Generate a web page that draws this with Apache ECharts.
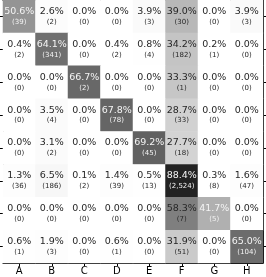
<!DOCTYPE html>
<html><head><meta charset="utf-8">
<script src="https://cdn.jsdelivr.net/npm/echarts@6/dist/echarts.min.js"></script>
<style>html,body{margin:0;padding:0;background:#fff}#c{width:266px;height:277px}</style>
</head><body><div id="c"></div>
<script>
const categories = ['A','B','C','D','E','F','G','H'];
// row-normalised percentages (rows = true class, top to bottom)
const percentA = [50.6, 2.6, 0.0, 0.0, 3.9, 39.0, 0.0, 3.9];
const percentB = [0.4, 64.1, 0.0, 0.4, 0.8, 34.2, 0.2, 0.0];
const percentC = [0.0, 0.0, 66.7, 0.0, 0.0, 33.3, 0.0, 0.0];
const percentD = [0.0, 3.5, 0.0, 67.8, 0.0, 28.7, 0.0, 0.0];
const percentE = [0.0, 3.1, 0.0, 0.0, 69.2, 27.7, 0.0, 0.0];
const percentF = [1.3, 6.5, 0.1, 1.4, 0.5, 88.4, 0.3, 1.6];
const percentG = [0.0, 0.0, 0.0, 0.0, 0.0, 58.3, 41.7, 0.0];
const percentH = [0.6, 1.9, 0.0, 0.6, 0.0, 31.9, 0.0, 65.0];
const countA = [39, 2, 0, 0, 3, 30, 0, 3];
const countB = [2, 341, 0, 2, 4, 182, 1, 0];
const countC = [0, 0, 2, 0, 0, 1, 0, 0];
const countD = [0, 4, 0, 78, 0, 33, 0, 0];
const countE = [0, 2, 0, 0, 45, 18, 0, 0];
const countF = [36, 186, 2, 39, 13, 2524, 8, 47];
const countG = [0, 0, 0, 0, 0, 7, 5, 0];
const countH = [1, 3, 0, 1, 0, 51, 0, 104];

const percents = [percentA, percentB, percentC, percentD, percentE, percentF, percentG, percentH];
const counts = [countA, countB, countC, countD, countE, countF, countG, countH];

// style: label colour rule (light text on dark cells) with exceptions seen in the reference
const lightExceptions = {'6,6': true};
const darkExceptions = {'6,5': true};

const data = [];
for (let r = 0; r < 8; r++) {
  for (let c = 0; c < 8; c++) {
    const v = percents[r][c];
    const key = r + ',' + c;
    let light = v > 50;
    if (lightExceptions[key]) light = true;
    if (darkExceptions[key]) light = false;
    const col = light ? '#f4f4f4' : '#262626';
    data.push({
      value: [c, r, v, counts[r][c]],
      label: { rich: {
        p: { color: col, fontSize: 9.5, lineHeight: 11, fontFamily: 'DejaVu Sans' },
        n: { color: col, fontSize: 7, lineHeight: 10, fontFamily: 'DejaVu Sans' }
      } }
    });
  }
}

const greys = ['#ffffff','#f0f0f0','#d9d9d9','#bdbdbd','#969696','#737373','#525252','#252525','#000000'];

const chart = echarts.init(document.getElementById('c'), null, {renderer: 'canvas'});
const axisLine = { show: true, lineStyle: { color: '#000', width: 1 } };
const tick = { show: true, length: 3, alignWithLabel: true, lineStyle: { color: '#000' } };
chart.setOption({
  animation: false,
  grid: { left: 3, right: 3, top: 0, bottom: 14 },
  visualMap: { show: false, min: 0, max: 100, dimension: 2, inRange: { color: greys } },
  xAxis: [
    { type: 'category', data: categories, position: 'bottom', axisLine: axisLine, axisTick: tick,
      axisLabel: { color: '#000', fontSize: 10, margin: 3, fontFamily: 'DejaVu Sans' }, splitLine: { show: false } },
    { type: 'category', data: categories, position: 'top', axisLine: axisLine, axisTick: tick,
      axisLabel: { show: false }, splitLine: { show: false } }
  ],
  yAxis: [
    { type: 'category', data: categories, inverse: true, position: 'left', axisLine: axisLine, axisTick: tick,
      axisLabel: { show: false }, splitLine: { show: false } },
    { type: 'category', data: categories, inverse: true, position: 'right', axisLine: axisLine, axisTick: tick,
      axisLabel: { show: false }, splitLine: { show: false } }
  ],
  series: [{
    type: 'heatmap',
    data: data,
    label: {
      show: true,
      formatter: function (p) {
        return '{p|' + p.value[2].toFixed(1) + '%}\n{n|(' + p.value[3].toLocaleString('en-US') + ')}';
      }
    },
    itemStyle: { borderWidth: 0 }
  }]
});
</script></body></html>
